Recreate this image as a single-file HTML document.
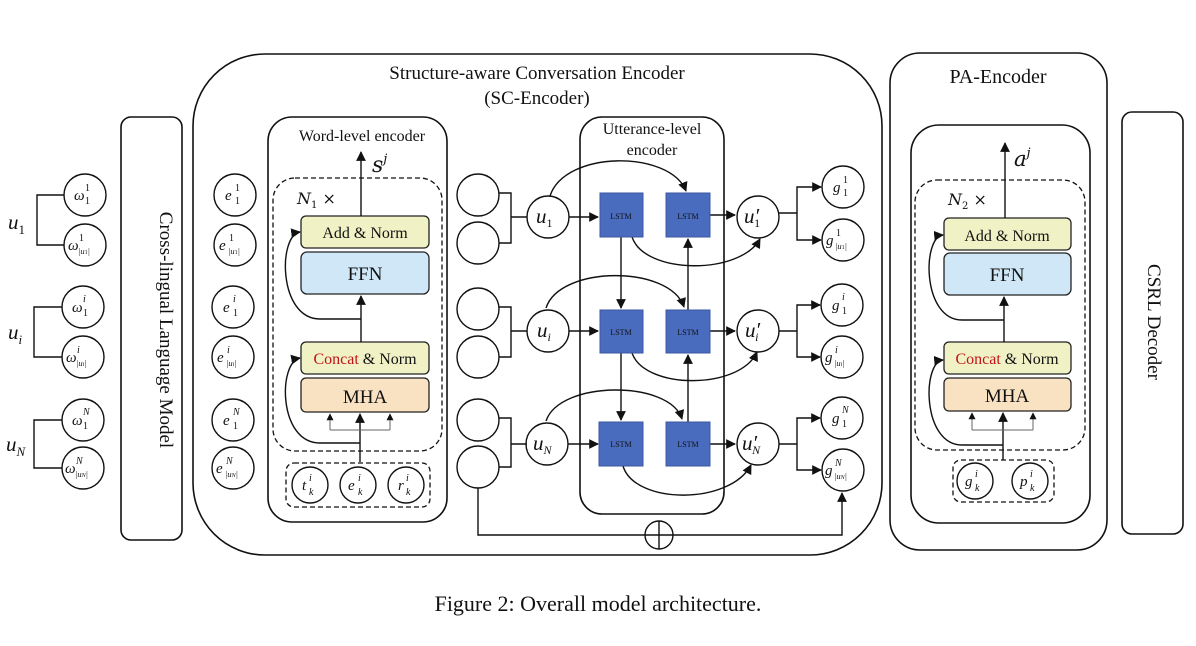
<!DOCTYPE html>
<html><head><meta charset="utf-8"><style>
html,body{margin:0;padding:0;background:#fff;}
svg{display:block;}
text{font-family:"Liberation Serif",serif;fill:#111;}
.m{font-family:"DejaVu Serif","Liberation Serif",serif;font-style:italic;}
.b{font-size:15px;}
.s{font-size:10px;}
.t{font-size:8.5px;}
</style></head><body>
<svg width="1196" height="646" viewBox="0 0 1196 646" xmlns="http://www.w3.org/2000/svg">
<defs>
<marker id="a" viewBox="0 0 10 10" refX="9" refY="5" markerWidth="7" markerHeight="7" orient="auto-start-reverse"><path d="M0,0 L10,5 L0,10 z" fill="#111"/></marker>
</defs>
<g fill="none" stroke="#111" stroke-width="1.6">
<rect x="121" y="117" width="61" height="423" rx="10"/>
<rect x="193" y="54" width="689" height="501" rx="72"/>
<rect x="268" y="117" width="179" height="405" rx="24"/>
<rect x="273" y="178" width="169" height="273" rx="22" stroke-dasharray="5,3" stroke-width="1.3"/>
<rect x="286" y="463" width="144" height="44" rx="8" stroke-dasharray="5,3" stroke-width="1.3"/>
<rect x="580" y="117" width="144" height="397" rx="22"/>
<rect x="890" y="53" width="217" height="497" rx="30"/>
<rect x="911" y="125" width="179" height="398" rx="28"/>
<rect x="915" y="180" width="170" height="270" rx="22" stroke-dasharray="5,3" stroke-width="1.3"/>
<rect x="953" y="460" width="101" height="42" rx="8" stroke-dasharray="5,3" stroke-width="1.3"/>
<rect x="1122" y="112" width="61" height="422" rx="10"/>
</g>

<g fill="none" stroke="#111" stroke-width="1.4">
<path d="M64,195 H37 V245 H64"/>
<path d="M62,307 H34 V357 H62"/>
<path d="M62,420 H34 V468 H62"/>
<circle cx="85" cy="195" r="21"/><circle cx="85" cy="245" r="21"/>
<circle cx="83" cy="307" r="21"/><circle cx="83" cy="357" r="21"/>
<circle cx="83" cy="420" r="21"/><circle cx="83" cy="468" r="21"/>
<circle cx="235" cy="195" r="21"/><circle cx="235" cy="245" r="21"/>
<circle cx="233" cy="307" r="21"/><circle cx="233" cy="357" r="21"/>
<circle cx="233" cy="420" r="21"/><circle cx="233" cy="468" r="21"/>
<circle cx="310" cy="485" r="18"/><circle cx="358" cy="485" r="18"/><circle cx="406" cy="485" r="18"/>
<circle cx="975" cy="481" r="18"/><circle cx="1030" cy="481" r="18"/>
</g>
<g class="m" font-size="21">
<text x="8" y="229">u<tspan font-size="13" dy="5" font-style="normal">1</tspan></text>
<text x="8" y="339">u<tspan font-size="13" dy="5">i</tspan></text>
<text x="6" y="451">u<tspan font-size="13" dy="5">N</tspan></text>
</g>
<g class="m">
<!-- omega short -->
<text class="b" x="74" y="200">ω</text><text class="s" x="85" y="191" font-style="normal">1</text><text class="s" x="85" y="204" font-style="normal">1</text>
<text class="b" x="72" y="312">ω</text><text class="s" x="83" y="302">i</text><text class="s" x="83" y="316" font-style="normal">1</text>
<text class="b" x="72" y="425">ω</text><text class="s" x="83" y="415">N</text><text class="s" x="83" y="429" font-style="normal">1</text>
<!-- omega long -->
<text class="b" x="68" y="250">ω</text><text class="s" x="79" y="241" font-style="normal">1</text><text class="t" x="78" y="254">|u<tspan font-size="6" font-style="normal">1</tspan>|</text>
<text class="b" x="66" y="362">ω</text><text class="s" x="77" y="353">i</text><text class="t" x="76" y="366">|u<tspan font-size="6">i</tspan>|</text>
<text class="b" x="65" y="473">ω</text><text class="s" x="76" y="464">N</text><text class="t" x="75" y="477">|u<tspan font-size="6">N</tspan>|</text>
<!-- e short -->
<text class="b" x="225" y="200">e</text><text class="s" x="235" y="191" font-style="normal">1</text><text class="s" x="235" y="204" font-style="normal">1</text>
<text class="b" x="223" y="312">e</text><text class="s" x="233" y="302">i</text><text class="s" x="233" y="316" font-style="normal">1</text>
<text class="b" x="223" y="425">e</text><text class="s" x="233" y="415">N</text><text class="s" x="233" y="429" font-style="normal">1</text>
<!-- e long -->
<text class="b" x="219" y="250">e</text><text class="s" x="229" y="241" font-style="normal">1</text><text class="t" x="228" y="254">|u<tspan font-size="6" font-style="normal">1</tspan>|</text>
<text class="b" x="217" y="362">e</text><text class="s" x="227" y="353">i</text><text class="t" x="226" y="366">|u<tspan font-size="6">i</tspan>|</text>
<text class="b" x="216" y="473">e</text><text class="s" x="226" y="464">N</text><text class="t" x="225" y="477">|u<tspan font-size="6">N</tspan>|</text>
<!-- t e r -->
<text class="b" x="302" y="490">t</text><text class="s" x="309" y="481">i</text><text class="s" x="309" y="495">k</text>
<text class="b" x="348" y="490">e</text><text class="s" x="358" y="481">i</text><text class="s" x="358" y="495">k</text>
<text class="b" x="398" y="490">r</text><text class="s" x="406" y="481">i</text><text class="s" x="406" y="495">k</text>
<text class="b" x="965" y="486">g</text><text class="s" x="975" y="477">i</text><text class="s" x="975" y="491">k</text>
<text class="b" x="1020" y="486">p</text><text class="s" x="1030" y="477">i</text><text class="s" x="1030" y="491">k</text>
<!-- g -->
<text class="b" x="833" y="192">g</text><text class="s" x="843" y="183" font-style="normal">1</text><text class="s" x="843" y="196" font-style="normal">1</text>
<text class="b" x="826" y="245">g</text><text class="s" x="836" y="236" font-style="normal">1</text><text class="t" x="835" y="249">|u<tspan font-size="6" font-style="normal">1</tspan>|</text>
<text class="b" x="832" y="310">g</text><text class="s" x="842" y="300">i</text><text class="s" x="842" y="314" font-style="normal">1</text>
<text class="b" x="825" y="362">g</text><text class="s" x="835" y="353">i</text><text class="t" x="834" y="366">|u<tspan font-size="6">i</tspan>|</text>
<text class="b" x="832" y="423">g</text><text class="s" x="842" y="413">N</text><text class="s" x="842" y="427" font-style="normal">1</text>
<text class="b" x="825" y="475">g</text><text class="s" x="835" y="466">N</text><text class="t" x="834" y="479">|u<tspan font-size="6">N</tspan>|</text>
</g>

<text x="160" y="330" font-size="19" text-anchor="middle" transform="rotate(90 160 330)">Cross-lingual Language Model</text>
<text x="1148" y="322" font-size="19" text-anchor="middle" transform="rotate(90 1148 322)">CSRL Decoder</text>
<text x="537" y="79" font-size="19" text-anchor="middle">Structure-aware Conversation Encoder</text>
<text x="537" y="104" font-size="19" text-anchor="middle">(SC-Encoder)</text>
<text x="998" y="83" font-size="20" text-anchor="middle">PA-Encoder</text>
<text x="362" y="141" font-size="16" text-anchor="middle">Word-level encoder</text>
<text x="652" y="134" font-size="16" text-anchor="middle">Utterance-level</text>
<text x="652" y="155" font-size="16" text-anchor="middle">encoder</text>
<text x="598" y="611" font-size="22" text-anchor="middle">Figure 2: Overall model architecture.</text>

<g stroke="#222" stroke-width="1.3">
<rect x="301" y="216" width="128" height="32" rx="5" fill="#f0f2c6"/>
<rect x="301" y="252" width="128" height="42" rx="6" fill="#cfe7f6"/>
<rect x="301" y="342" width="128" height="32" rx="5" fill="#f0f2c6"/>
<rect x="301" y="378" width="128" height="34" rx="5" fill="#f9e2c2"/>
<rect x="944" y="218" width="127" height="32" rx="5" fill="#f0f2c6"/>
<rect x="944" y="253" width="127" height="42" rx="6" fill="#cfe7f6"/>
<rect x="944" y="342" width="127" height="32" rx="5" fill="#f0f2c6"/>
<rect x="944" y="378" width="127" height="33" rx="5" fill="#f9e2c2"/>
</g>
<g font-size="16" text-anchor="middle">
<text x="365" y="238">Add &amp; Norm</text>
<text x="365" y="280" font-size="19">FFN</text>
<text x="365" y="364"><tspan fill="#c0141a">Concat</tspan> &amp; Norm</text>
<text x="365" y="403" font-size="19">MHA</text>
<text x="1007" y="241">Add &amp; Norm</text>
<text x="1007" y="281" font-size="19">FFN</text>
<text x="1007" y="364"><tspan fill="#c0141a">Concat</tspan> &amp; Norm</text>
<text x="1007" y="402" font-size="19">MHA</text>
</g>
<text x="297" y="204" font-size="16" class="m">N<tspan font-size="10" dy="4" font-style="normal">1</tspan><tspan dy="-4" font-style="normal"> ×</tspan></text>
<text x="948" y="205" font-size="16" class="m">N<tspan font-size="10" dy="4" font-style="normal">2</tspan><tspan dy="-4" font-style="normal"> ×</tspan></text>
<text x="372" y="172" font-size="22" class="m">s<tspan font-size="13" dy="-9">j</tspan></text>
<text x="1014" y="166" font-size="21" class="m">a<tspan font-size="13" dy="-9">j</tspan></text>

<g fill="none" stroke="#111" stroke-width="1.4">
<path d="M361,216 V152" marker-end="url(#a)"/>
<path d="M361,342 V296" marker-end="url(#a)"/>
<path d="M361,319 H320 C278,319 278,235 300,232" marker-end="url(#a)"/>
<path d="M360,462 V414" marker-end="url(#a)"/>
<path d="M360,443 H320 C278,443 278,362 300,358" marker-end="url(#a)"/>
<path d="M330,430 H390" stroke="#666" stroke-width="1"/>
<path d="M330,430 V414" stroke="#666" stroke-width="1" marker-end="url(#a)"/>
<path d="M390,430 V414" stroke="#666" stroke-width="1" marker-end="url(#a)"/>
<path d="M1005,218 V143" marker-end="url(#a)"/>
<path d="M1004,342 V297" marker-end="url(#a)"/>
<path d="M1004,320 H962 C922,320 922,237 943,235" marker-end="url(#a)"/>
<path d="M1003,460 V413" marker-end="url(#a)"/>
<path d="M1003,445 H962 C922,445 922,362 943,360" marker-end="url(#a)"/>
<path d="M972,430 H1033" stroke="#666" stroke-width="1"/>
<path d="M972,430 V413" stroke="#666" stroke-width="1" marker-end="url(#a)"/>
<path d="M1033,430 V413" stroke="#666" stroke-width="1" marker-end="url(#a)"/>
</g>

<g fill="none" stroke="#111" stroke-width="1.4">
<circle cx="478" cy="195" r="21"/><circle cx="478" cy="243" r="21"/>
<circle cx="478" cy="309" r="21"/><circle cx="478" cy="357" r="21"/>
<circle cx="478" cy="420" r="21"/><circle cx="478" cy="467" r="21"/>
<path d="M499,193 H511 V243 H499 M511,217 H527"/>
<path d="M499,307 H511 V357 H499 M511,331 H527"/>
<path d="M499,418 H511 V467 H499 M511,444 H527"/>
<circle cx="548" cy="217" r="21"/><circle cx="548" cy="331" r="21"/><circle cx="547" cy="444" r="21"/>
<circle cx="758" cy="217" r="21"/><circle cx="758" cy="331" r="21"/><circle cx="758" cy="444" r="21"/>
<circle cx="843" cy="187" r="21"/><circle cx="843" cy="240" r="21"/>
<circle cx="842" cy="305" r="21"/><circle cx="842" cy="357" r="21"/>
<circle cx="842" cy="418" r="21"/><circle cx="843" cy="470" r="21"/>
<path d="M569,217 H598" marker-end="url(#a)"/>
<path d="M569,331 H598" marker-end="url(#a)"/>
<path d="M568,444 H598" marker-end="url(#a)"/>
<path d="M710,215 H735" marker-end="url(#a)"/>
<path d="M710,331 H735" marker-end="url(#a)"/>
<path d="M710,444 H735" marker-end="url(#a)"/>
<path d="M621,237 V308" marker-end="url(#a)"/>
<path d="M621,353 V420" marker-end="url(#a)"/>
<path d="M688,422 V355" marker-end="url(#a)"/>
<path d="M688,310 V239" marker-end="url(#a)"/>
<path d="M550,196 C565,150 670,150 686,191" marker-end="url(#a)"/>
<path d="M546,308 C560,265 670,265 684,307" marker-end="url(#a)"/>
<path d="M546,421 C560,380 670,380 682,419" marker-end="url(#a)"/>
<path d="M632,237 C645,275 740,275 760,239" marker-end="url(#a)"/>
<path d="M632,353 C645,390 740,390 757,352" marker-end="url(#a)"/>
<path d="M623,466 C635,505 730,505 751,465" marker-end="url(#a)"/>
<path d="M779,213 H797 M797,213 V187 H820 M797,213 V240 H820" />
<path d="M820,187 H821" marker-end="url(#a)"/><path d="M820,240 H821" marker-end="url(#a)"/>
<path d="M779,331 H797 M797,331 V305 H819 M797,331 V357 H819"/>
<path d="M819,305 H820" marker-end="url(#a)"/><path d="M819,357 H820" marker-end="url(#a)"/>
<path d="M779,444 H797 M797,444 V418 H819 M797,444 V470 H820"/>
<path d="M819,418 H820" marker-end="url(#a)"/><path d="M820,470 H821" marker-end="url(#a)"/>
<path d="M478,488 V535 H645 M673,535 H842 V493" marker-end="url(#a)"/>
<circle cx="659" cy="535" r="14"/>
<path d="M645,535 H673 M659,521 V549"/>
</g>
<g fill="#4a6cbf" stroke="#3a58a0" stroke-width="1">
<rect x="600" y="193" width="43" height="44"/><rect x="666" y="193" width="44" height="44"/>
<rect x="600" y="310" width="43" height="43"/><rect x="666" y="310" width="44" height="43"/>
<rect x="599" y="422" width="44" height="44"/><rect x="666" y="422" width="44" height="44"/>
</g>
<g font-size="8" text-anchor="middle" style="fill:#111">
<text x="621" y="219">LSTM</text><text x="688" y="219">LSTM</text>
<text x="621" y="335">LSTM</text><text x="688" y="335">LSTM</text>
<text x="621" y="447">LSTM</text><text x="688" y="447">LSTM</text>
</g>
<g class="m" font-size="21">
<text x="536" y="223">u<tspan font-size="12" dy="4" font-style="normal">1</tspan></text>
<text x="537" y="337">u<tspan font-size="12" dy="4">i</tspan></text>
<text x="533" y="450">u<tspan font-size="12" dy="4">N</tspan></text>
<text x="744" y="223">u′<tspan font-size="12" dy="4" dx="-5" font-style="normal">1</tspan></text>
<text x="745" y="337">u′<tspan font-size="12" dy="4" dx="-5">i</tspan></text>
<text x="742" y="450">u′<tspan font-size="12" dy="4" dx="-5">N</tspan></text>
</g>
</svg>
</body></html>
